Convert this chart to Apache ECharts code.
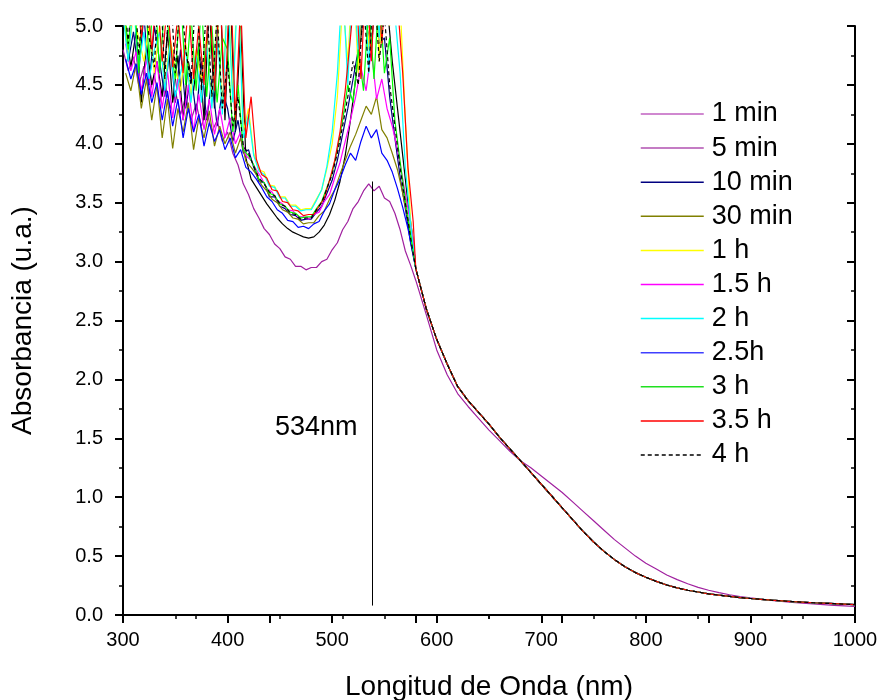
<!DOCTYPE html>
<html>
<head>
<meta charset="utf-8">
<script src="https://cdn.jsdelivr.net/npm/echarts@6/dist/echarts.min.js"></script>
<style>html,body{margin:0;padding:0;background:#fff}#c{width:882px;height:700px}</style>
</head>
<body>
<div id="c"></div>
<script>
// ---- wavelength grids (nm) ----
var wlNoisyA = [300,305,310,315,320,325,330,335,340,345,350,355,360,365,370,375,380,385,390,395,
  400,405,410,415,420,425,430,435,440,445,450,455,460,465,470,475,480,485,490,495,500,
  505,510,515,520,525,530,535,540,545,550,555,560,565,570,575];
var wlNoisyB = [302.5,307.5,312.5,317.5,322.5,327.5,332.5,337.5,342.5,347.5,352.5,357.5,362.5,367.5,372.5,377.5,382.5,387.5,392.5,397.5,
  402.5,407.5,412.5,417.5,422.5,427.5,432.5,437.5,442.5,447.5,452.5,457.5,462.5,467.5,472.5,477.5,482.5,487.5,492.5,497.5,502.5,
  507.5,512.5,517.5,522.5,527.5,532.5,537.5,542.5,547.5,552.5,557.5,562.5,567.5,572.5,577.5];
var wlTail = [580,590,600,610,620,630,640,650,660,670,680,690,700,710,720,730,740,750,760,770,
  780,790,800,810,820,830,840,850,860,870,880,890,900,910,920,930,940,950,960,970,980,990,1000];

// ---- series names ----
var seriesNames = ['1 min','5 min','10 min','30 min','1 h','1.5 h','2 h','2.5h','3 h','3.5 h','4 h'];

// ---- absorbance values, noisy part (300-577 nm) ----
var a1min = [4.80,4.62,4.74,4.50,4.66, 4.42,4.58,4.35,4.52,4.30,4.45,4.25,4.40,4.20,4.34,4.15,4.28,4.10,4.20,4.02,
  4.10,3.92,3.82,3.66,3.57, 3.45,3.37,3.28,3.23,3.15,3.11,3.04,3.02,2.96,2.96,2.93,2.95,2.95,3.00,3.02,3.10,
  3.16,3.27,3.34,3.45,3.51,3.60,3.66,3.60,3.64,3.54,3.51,3.41, 3.27,3.09,2.97];
var a5min = [5.00,4.65,4.95,4.35,4.85, 4.50,4.70,4.40,4.95,4.35,4.75,4.20,4.70,4.45,4.85,4.20,5.20,4.30,5.40,4.20,
  5.30,4.10,5.00,3.88,3.70, 3.63,3.56,3.49,3.43,3.37,3.32,3.28,3.25,3.23,3.21,3.20,3.21,3.25,3.31,3.40,3.52,
  3.68,3.90,4.20,4.55,4.90,5.30,4.80,5.40,5.00,5.20,4.70,4.30, 3.90,3.50,3.18];
var a10min = [5.20,4.70,4.95,4.60,5.10, 4.50,5.00,4.70,4.40,4.85,4.35,4.80,4.30,4.60,4.25,4.70,4.20,4.55,4.15,4.45,
  4.30,4.02,4.20,3.92,3.95, 3.80,3.68,3.67,3.55,3.55,3.47,3.45,3.40,3.39,3.35,3.36,3.36,3.42,3.47,3.58,3.69,
  3.86,4.08,4.30,4.55,4.80,5.20,4.90,5.30,4.85,4.90,4.40,4.05, 3.72,3.45,3.16];
var a30min = [4.60,4.45,4.68,4.30,4.55, 4.20,4.50,4.05,4.38,3.96,4.30,4.10,4.35,3.95,4.22,4.05,4.28,3.98,4.15,4.00,
  4.10,3.92,4.05,3.85,3.80, 3.74,3.65,3.60,3.53,3.50,3.44,3.42,3.37,3.36,3.32,3.33,3.33,3.39,3.43,3.53,3.61,
  3.74,3.86,3.98,4.08,4.20,4.32,4.25,4.40,4.12,4.05,3.92,3.78, 3.58,3.36,3.12];
var a1h = [5.20,4.75,5.10,4.90,4.70, 5.00,4.60,5.00,4.50,4.90,4.65,4.45,4.85,4.40,4.80,4.55,4.90,4.35,5.10,4.30,
  5.40,4.40,5.50,4.10,4.30, 3.92,3.78,3.76,3.65,3.64,3.55,3.55,3.48,3.48,3.44,3.45,3.45,3.53,3.61,3.79,4.00,
  4.40,5.20,4.70,5.50,4.60,5.70,4.80,5.80,4.70,5.60,5.00,5.40, 5.20,4.20,3.35];
var a15h = [4.85,4.62,4.78,4.45,4.72, 4.40,4.70,4.30,4.62,4.22,4.55,4.20,4.50,4.10,4.42,4.12,4.38,4.08,4.30,4.05,
  4.22,4.00,4.10,3.90,3.86, 3.78,3.71,3.62,3.59,3.52,3.49,3.44,3.43,3.38,3.38,3.36,3.40,3.42,3.51,3.57,3.71,
  3.84,4.02,4.20,4.40,4.65,4.45,4.80,4.38,4.55,4.30,4.15,3.95, 3.70,3.45,3.18];
var a2h = [5.10,4.70,5.20,4.65,4.95, 4.55,4.80,4.95,4.45,4.85,4.40,4.60,4.80,4.35,4.75,4.35,4.85,4.30,5.00,4.25,
  5.30,4.35,5.40,4.05,4.25, 3.90,3.77,3.74,3.64,3.63,3.54,3.54,3.47,3.47,3.43,3.44,3.44,3.52,3.61,3.81,4.10,
  4.60,5.40,4.50,5.50,4.75,5.70,4.60,5.80,4.90,5.60,5.30,5.10, 4.60,3.80,3.32];
var a25h = [4.72,4.55,4.68,4.42,4.60, 4.35,4.52,4.20,4.45,4.15,4.38,4.05,4.30,4.10,4.25,3.98,4.18,4.02,4.12,3.95,
  4.05,3.88,3.95,3.80,3.76, 3.70,3.63,3.55,3.51,3.44,3.41,3.35,3.34,3.29,3.30,3.28,3.32,3.34,3.43,3.49,3.61,
  3.70,3.82,3.92,3.86,4.02,4.15,4.05,4.12,3.92,3.86,3.76,3.62, 3.46,3.28,3.06];
var a3h = [5.30,4.80,5.40,4.60,5.50, 4.70,5.40,4.60,5.20,4.85,4.55,5.30,4.50,5.10,4.45,5.20,4.40,5.00,4.35,4.90,
  4.80,4.10,4.50,3.95,3.90, 3.82,3.70,3.67,3.58,3.56,3.49,3.47,3.42,3.41,3.37,3.38,3.38,3.45,3.51,3.63,3.75,
  3.95,4.20,4.50,4.35,4.80,4.45,5.20,4.55,5.30,4.60,4.90,4.20, 3.85,3.52,3.22];
var a35h = [5.50,5.00,5.40,4.90,5.30, 4.80,5.30,4.70,5.20,4.65,5.10,4.60,5.20,4.55,5.00,4.50,5.30,4.45,5.40,4.30,
  5.50,4.20,5.20,4.05,4.40, 3.87,3.74,3.71,3.61,3.60,3.51,3.50,3.44,3.43,3.39,3.40,3.40,3.47,3.54,3.69,3.86,
  4.10,4.45,4.90,5.40,4.55,5.50,4.70,5.60,4.85,5.50,5.40,5.20, 4.60,3.80,3.34];
var a4h = [5.40,4.85,5.50,4.75,5.30, 4.90,4.65,5.50,4.55,5.40,4.60,5.30,4.80,4.50,5.40,4.45,5.20,4.40,5.10,4.30,
  4.70,4.15,4.40,3.98,3.92, 3.81,3.71,3.66,3.59,3.56,3.49,3.47,3.41,3.40,3.36,3.37,3.37,3.44,3.50,3.62,3.74,
  3.92,4.15,4.40,4.70,4.50,5.20,4.60,5.40,4.70,5.10,4.50,4.15, 3.80,3.50,3.20];

// ---- absorbance values, 580-1000 nm (smooth tails) ----
var tailMain = [2.94,2.60,2.34,2.13,1.94,1.82,1.72,1.62,1.51,1.41,1.31,1.21,1.11,1.01,0.91,0.81,0.71,0.62,0.54,0.47,
  0.41,0.36,0.32,0.285,0.255,0.23,0.21,0.195,0.18,0.168,0.158,0.148,0.14,0.133,0.126,0.12,0.114,0.109,0.104,0.10,0.096,0.092,0.088];
var tail1min = [2.84,2.55,2.25,2.04,1.88,1.77,1.67,1.57,1.48,1.39,1.31,1.25,1.18,1.11,1.04,0.96,0.88,0.80,0.72,0.64,
  0.57,0.50,0.44,0.39,0.34,0.30,0.265,0.235,0.21,0.19,0.172,0.157,0.145,0.134,0.124,0.115,0.107,0.10,0.094,0.088,0.082,0.077,0.072];

// ---- annotation ----
var peakWl = 538, peakTop = 3.68, peakBottom = 0.08, peakLabel = '534nm';

var noisy = [a1min,a5min,a10min,a30min,a1h,a15h,a2h,a25h,a3h,a35h,a4h];
var grids = [wlNoisyA,wlNoisyB,wlNoisyA,wlNoisyB,wlNoisyA,wlNoisyB,wlNoisyA,wlNoisyB,wlNoisyA,wlNoisyB,wlNoisyA];
var tails = [tail1min,tailMain,tailMain,tailMain,tailMain,tailMain,tailMain,tailMain,tailMain,tailMain,tailMain];
var lineColors = ['#a0209f','#000000','#000080','#808000','#ffff00','#ff00ff','#00ffff','#0000ff','#00ff00','#ff0000','#000000'];
var legendColors = ['#c060c0','#b050b0','#000080','#808000','#ffff00','#ff00ff','#00ffff','#4040ff','#20e020','#ff0000','#000000'];

function pairs(xs, ys){ var o=[]; for (var i=0;i<xs.length;i++) o.push([xs[i], ys[i]]); return o; }

var FONT = '"Liberation Sans", Arial, sans-serif';
var series = seriesNames.map(function(n, k){
  var s = {
    name: n, type: 'line', symbol: 'none', silent: true, animation: false,
    data: pairs(grids[k], noisy[k]).concat(pairs(wlTail, tails[k])),
    lineStyle: { color: lineColors[k], width: 1.2, type: k === 10 ? [4,3] : 'solid' },
    itemStyle: { color: legendColors[k] }
  };
  if (k === 0) {
    s.markLine = {
      silent: true, symbol: 'none', animation: false,
      label: { show: false },
      lineStyle: { color: '#000', width: 1, type: 'solid' },
      data: [[{ coord: [peakWl, peakBottom] }, { coord: [peakWl, peakTop] }]]
    };
  }
  return s;
});

var legendData = seriesNames.map(function(n, k){
  return { name: n, itemStyle: { opacity: 0 },
           lineStyle: { color: legendColors[k], width: 1.5, type: k === 10 ? [4,3] : 'solid' } };
});

var axisLine = { show: true, lineStyle: { color: '#000', width: 2 } };
var chart = echarts.init(document.getElementById('c'));
chart.setOption({
  backgroundColor: '#fff',
  animation: false,
  grid: { left: 123, right: 27, top: 26, bottom: 85, containLabel: false, outerBoundsMode: 'none' },
  legend: {
    show: true, orient: 'vertical', left: 640, top: 100, padding: 0,
    itemWidth: 63, itemHeight: 2, itemGap: 6.1,
    selectedMode: false, data: legendData, itemStyle: { opacity: 0 },
    textStyle: { fontFamily: FONT, fontSize: 27, color: '#000', lineHeight: 28, padding: [0,0,0,3] }
  },
  xAxis: [{
    type: 'value', position: 'bottom', min: 300, max: 1000, interval: 100,
    axisLine: axisLine,
    axisTick: { show: true, inside: false, length: 8, lineStyle: { color: '#000', width: 2 } },
    minorTick: { show: true, splitNumber: 2, length: 4, lineStyle: { color: '#000', width: 1.5 } },
    splitLine: { show: false }, minorSplitLine: { show: false },
    axisLabel: { fontFamily: FONT, fontSize: 20, color: '#000', margin: 15, formatter: function(v){ return String(v); } },
    name: 'Longitud de Onda (nm)', nameLocation: 'middle', nameGap: 58,
    nameTextStyle: { fontFamily: FONT, fontSize: 28, color: '#000' }
  }, {
    type: 'value', position: 'top', min: 0, max: 5, interval: 1,
    axisLine: axisLine,
    axisTick: { show: true, inside: true, length: 8, lineStyle: { color: '#000', width: 2 } },
    minorTick: { show: true, splitNumber: 2, length: 4, lineStyle: { color: '#000', width: 1.5 } },
    splitLine: { show: false }, axisLabel: { show: false }
  }],
  yAxis: [{
    type: 'value', position: 'left', min: 0, max: 5, interval: 0.5,
    axisLine: axisLine,
    axisTick: { show: true, inside: false, length: 8, lineStyle: { color: '#000', width: 2 } },
    minorTick: { show: true, splitNumber: 2, length: 4, lineStyle: { color: '#000', width: 1.5 } },
    splitLine: { show: false }, minorSplitLine: { show: false },
    axisLabel: { fontFamily: FONT, fontSize: 20, color: '#000', margin: 20, formatter: function(v){ return v.toFixed(1); } },
    name: 'Absorbancia (u.a.)', nameLocation: 'middle', nameGap: 86,
    nameTextStyle: { fontFamily: FONT, fontSize: 28, color: '#000' }
  }, {
    type: 'value', position: 'right', min: 0, max: 5, interval: 0.5,
    axisLine: axisLine,
    axisTick: { show: true, inside: true, length: 8, lineStyle: { color: '#000', width: 2 } },
    minorTick: { show: true, splitNumber: 2, length: 4, lineStyle: { color: '#000', width: 1.5 } },
    splitLine: { show: false }, axisLabel: { show: false }
  }],
  graphic: [{
    type: 'text', left: 275, top: 414, silent: true,
    style: { text: peakLabel, font: '27px ' + FONT, fill: '#000' }
  }],
  series: series
});
</script>
</body>
</html>
